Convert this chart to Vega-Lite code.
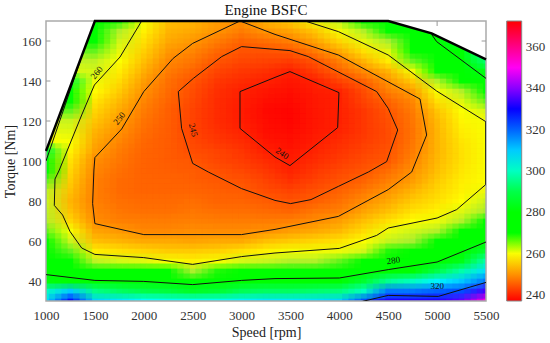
{"$schema":"https://vega.github.io/schema/vega-lite/v6.json","width":440,"height":280,"autosize":{"type":"none"},"padding":{"left":46,"top":21,"right":64,"bottom":42},"background":"white","config":{"view":{"stroke":null},"font":"Liberation Serif"},"title":{"text":"Engine BSFC","font":"Liberation Serif","fontSize":15,"fontWeight":"normal","color":"#111","offset":-2,"anchor":"middle"},
"datasets":{"grid":[
{"rpm":1000,"nm":30,"v":308},{"rpm":1000,"nm":35,"v":300},{"rpm":1000,"nm":40,"v":285},{"rpm":1000,"nm":45,"v":279},{"rpm":1000,"nm":50,"v":275},{"rpm":1000,"nm":55,"v":272},{"rpm":1000,"nm":60,"v":270},{"rpm":1000,"nm":65,"v":268},{"rpm":1000,"nm":70,"v":266},{"rpm":1000,"nm":75,"v":265},{"rpm":1000,"nm":80,"v":264},{"rpm":1000,"nm":85,"v":265},{"rpm":1000,"nm":90,"v":268},{"rpm":1000,"nm":95,"v":272},{"rpm":1000,"nm":100,"v":280},{"rpm":1000,"nm":105,"v":288},
{"rpm":1250,"nm":30,"v":328},{"rpm":1250,"nm":35,"v":310},{"rpm":1250,"nm":40,"v":283},{"rpm":1250,"nm":45,"v":277},{"rpm":1250,"nm":50,"v":273},{"rpm":1250,"nm":55,"v":268},{"rpm":1250,"nm":60,"v":264},{"rpm":1250,"nm":65,"v":260},{"rpm":1250,"nm":70,"v":256},{"rpm":1250,"nm":75,"v":254},{"rpm":1250,"nm":80,"v":253},{"rpm":1250,"nm":85,"v":254},{"rpm":1250,"nm":90,"v":255},{"rpm":1250,"nm":95,"v":256},{"rpm":1250,"nm":100,"v":257},{"rpm":1250,"nm":105,"v":258.5},{"rpm":1250,"nm":110,"v":260},{"rpm":1250,"nm":115,"v":262},{"rpm":1250,"nm":120,"v":264},{"rpm":1250,"nm":125,"v":268},{"rpm":1250,"nm":130,"v":274},{"rpm":1250,"nm":135,"v":282},{"rpm":1250,"nm":140,"v":288},
{"rpm":1500,"nm":30,"v":309},{"rpm":1500,"nm":35,"v":295},{"rpm":1500,"nm":40,"v":281},{"rpm":1500,"nm":45,"v":273},{"rpm":1500,"nm":50,"v":265},{"rpm":1500,"nm":55,"v":258},{"rpm":1500,"nm":60,"v":254},{"rpm":1500,"nm":65,"v":251.5},{"rpm":1500,"nm":70,"v":249.7},{"rpm":1500,"nm":75,"v":249},{"rpm":1500,"nm":80,"v":248.5},{"rpm":1500,"nm":85,"v":248.3},{"rpm":1500,"nm":90,"v":248.5},{"rpm":1500,"nm":95,"v":249},{"rpm":1500,"nm":100,"v":249.8},{"rpm":1500,"nm":105,"v":251},{"rpm":1500,"nm":110,"v":252},{"rpm":1500,"nm":115,"v":253},{"rpm":1500,"nm":120,"v":254.5},{"rpm":1500,"nm":125,"v":256},{"rpm":1500,"nm":130,"v":257.5},{"rpm":1500,"nm":135,"v":259.3},{"rpm":1500,"nm":140,"v":261},{"rpm":1500,"nm":145,"v":263},{"rpm":1500,"nm":150,"v":265},{"rpm":1500,"nm":155,"v":268},{"rpm":1500,"nm":160,"v":272},{"rpm":1500,"nm":165,"v":276},{"rpm":1500,"nm":170,"v":282},
{"rpm":1750,"nm":30,"v":307},{"rpm":1750,"nm":35,"v":292},{"rpm":1750,"nm":40,"v":280},{"rpm":1750,"nm":45,"v":272},{"rpm":1750,"nm":50,"v":263},{"rpm":1750,"nm":55,"v":257},{"rpm":1750,"nm":60,"v":253},{"rpm":1750,"nm":65,"v":250.5},{"rpm":1750,"nm":70,"v":248.5},{"rpm":1750,"nm":75,"v":247.5},{"rpm":1750,"nm":80,"v":247},{"rpm":1750,"nm":85,"v":246.5},{"rpm":1750,"nm":90,"v":246.5},{"rpm":1750,"nm":95,"v":247},{"rpm":1750,"nm":100,"v":247.5},{"rpm":1750,"nm":105,"v":248},{"rpm":1750,"nm":110,"v":249},{"rpm":1750,"nm":115,"v":250},{"rpm":1750,"nm":120,"v":251},{"rpm":1750,"nm":125,"v":252},{"rpm":1750,"nm":130,"v":253.5},{"rpm":1750,"nm":135,"v":255},{"rpm":1750,"nm":140,"v":256.5},{"rpm":1750,"nm":145,"v":258},{"rpm":1750,"nm":150,"v":259.7},{"rpm":1750,"nm":155,"v":261.5},{"rpm":1750,"nm":160,"v":263.5},{"rpm":1750,"nm":165,"v":266},{"rpm":1750,"nm":170,"v":269},
{"rpm":2000,"nm":30,"v":305},{"rpm":2000,"nm":35,"v":290},{"rpm":2000,"nm":40,"v":280},{"rpm":2000,"nm":45,"v":271},{"rpm":2000,"nm":50,"v":262},{"rpm":2000,"nm":55,"v":256},{"rpm":2000,"nm":60,"v":252},{"rpm":2000,"nm":65,"v":249.3},{"rpm":2000,"nm":70,"v":248},{"rpm":2000,"nm":75,"v":247},{"rpm":2000,"nm":80,"v":246.5},{"rpm":2000,"nm":85,"v":246},{"rpm":2000,"nm":90,"v":246},{"rpm":2000,"nm":95,"v":245.8},{"rpm":2000,"nm":100,"v":245.8},{"rpm":2000,"nm":105,"v":246},{"rpm":2000,"nm":110,"v":246.3},{"rpm":2000,"nm":115,"v":246.8},{"rpm":2000,"nm":120,"v":247.3},{"rpm":2000,"nm":125,"v":248},{"rpm":2000,"nm":130,"v":249},{"rpm":2000,"nm":135,"v":250},{"rpm":2000,"nm":140,"v":251},{"rpm":2000,"nm":145,"v":252.5},{"rpm":2000,"nm":150,"v":254},{"rpm":2000,"nm":155,"v":255.5},{"rpm":2000,"nm":160,"v":257},{"rpm":2000,"nm":165,"v":258.5},{"rpm":2000,"nm":170,"v":260},
{"rpm":2250,"nm":30,"v":304},{"rpm":2250,"nm":35,"v":289},{"rpm":2250,"nm":40,"v":278},{"rpm":2250,"nm":45,"v":270},{"rpm":2250,"nm":50,"v":260},{"rpm":2250,"nm":55,"v":255},{"rpm":2250,"nm":60,"v":252},{"rpm":2250,"nm":65,"v":249.3},{"rpm":2250,"nm":70,"v":248},{"rpm":2250,"nm":75,"v":247},{"rpm":2250,"nm":80,"v":246.5},{"rpm":2250,"nm":85,"v":246},{"rpm":2250,"nm":90,"v":245.8},{"rpm":2250,"nm":95,"v":245.5},{"rpm":2250,"nm":100,"v":245.3},{"rpm":2250,"nm":105,"v":245.2},{"rpm":2250,"nm":110,"v":245.2},{"rpm":2250,"nm":115,"v":245.3},{"rpm":2250,"nm":120,"v":245.4},{"rpm":2250,"nm":125,"v":245.5},{"rpm":2250,"nm":130,"v":246},{"rpm":2250,"nm":135,"v":246.5},{"rpm":2250,"nm":140,"v":247},{"rpm":2250,"nm":145,"v":248},{"rpm":2250,"nm":150,"v":249.2},{"rpm":2250,"nm":155,"v":250.5},{"rpm":2250,"nm":160,"v":252},{"rpm":2250,"nm":165,"v":253},{"rpm":2250,"nm":170,"v":254},
{"rpm":2500,"nm":30,"v":304},{"rpm":2500,"nm":35,"v":287},{"rpm":2500,"nm":40,"v":276.5},{"rpm":2500,"nm":45,"v":266.5},{"rpm":2500,"nm":50,"v":258.5},{"rpm":2500,"nm":55,"v":255},{"rpm":2500,"nm":60,"v":251.5},{"rpm":2500,"nm":65,"v":249.7},{"rpm":2500,"nm":70,"v":248.5},{"rpm":2500,"nm":75,"v":247.5},{"rpm":2500,"nm":80,"v":246.8},{"rpm":2500,"nm":85,"v":246},{"rpm":2500,"nm":90,"v":245.5},{"rpm":2500,"nm":95,"v":245.2},{"rpm":2500,"nm":100,"v":244.8},{"rpm":2500,"nm":105,"v":244},{"rpm":2500,"nm":110,"v":243.5},{"rpm":2500,"nm":115,"v":243},{"rpm":2500,"nm":120,"v":243},{"rpm":2500,"nm":125,"v":243},{"rpm":2500,"nm":130,"v":243.5},{"rpm":2500,"nm":135,"v":244},{"rpm":2500,"nm":140,"v":244.8},{"rpm":2500,"nm":145,"v":246},{"rpm":2500,"nm":150,"v":247.5},{"rpm":2500,"nm":155,"v":249},{"rpm":2500,"nm":160,"v":250.5},{"rpm":2500,"nm":165,"v":252},{"rpm":2500,"nm":170,"v":253},
{"rpm":2750,"nm":30,"v":304},{"rpm":2750,"nm":35,"v":288},{"rpm":2750,"nm":40,"v":278},{"rpm":2750,"nm":45,"v":269},{"rpm":2750,"nm":50,"v":260},{"rpm":2750,"nm":55,"v":255.5},{"rpm":2750,"nm":60,"v":252},{"rpm":2750,"nm":65,"v":249.5},{"rpm":2750,"nm":70,"v":248},{"rpm":2750,"nm":75,"v":247},{"rpm":2750,"nm":80,"v":246},{"rpm":2750,"nm":85,"v":245.5},{"rpm":2750,"nm":90,"v":245},{"rpm":2750,"nm":95,"v":244.3},{"rpm":2750,"nm":100,"v":243.5},{"rpm":2750,"nm":105,"v":243},{"rpm":2750,"nm":110,"v":242},{"rpm":2750,"nm":115,"v":241.5},{"rpm":2750,"nm":120,"v":241},{"rpm":2750,"nm":125,"v":241},{"rpm":2750,"nm":130,"v":241},{"rpm":2750,"nm":135,"v":241.2},{"rpm":2750,"nm":140,"v":242},{"rpm":2750,"nm":145,"v":243.2},{"rpm":2750,"nm":150,"v":244.8},{"rpm":2750,"nm":155,"v":246.2},{"rpm":2750,"nm":160,"v":248.2},{"rpm":2750,"nm":165,"v":250.2},{"rpm":2750,"nm":170,"v":251},
{"rpm":3000,"nm":30,"v":306},{"rpm":3000,"nm":35,"v":291},{"rpm":3000,"nm":40,"v":281},{"rpm":3000,"nm":45,"v":272},{"rpm":3000,"nm":50,"v":263},{"rpm":3000,"nm":55,"v":257},{"rpm":3000,"nm":60,"v":252},{"rpm":3000,"nm":65,"v":249.5},{"rpm":3000,"nm":70,"v":248},{"rpm":3000,"nm":75,"v":246.8},{"rpm":3000,"nm":80,"v":246},{"rpm":3000,"nm":85,"v":245.2},{"rpm":3000,"nm":90,"v":244.5},{"rpm":3000,"nm":95,"v":243.5},{"rpm":3000,"nm":100,"v":242.5},{"rpm":3000,"nm":105,"v":241.8},{"rpm":3000,"nm":110,"v":241},{"rpm":3000,"nm":115,"v":240.2},{"rpm":3000,"nm":120,"v":239.7},{"rpm":3000,"nm":125,"v":239.5},{"rpm":3000,"nm":130,"v":239.7},{"rpm":3000,"nm":135,"v":240},{"rpm":3000,"nm":140,"v":241},{"rpm":3000,"nm":145,"v":242},{"rpm":3000,"nm":150,"v":243.3},{"rpm":3000,"nm":155,"v":244.5},{"rpm":3000,"nm":160,"v":246},{"rpm":3000,"nm":165,"v":248},{"rpm":3000,"nm":170,"v":250},
{"rpm":3250,"nm":30,"v":307},{"rpm":3250,"nm":35,"v":292},{"rpm":3250,"nm":40,"v":282},{"rpm":3250,"nm":45,"v":273},{"rpm":3250,"nm":50,"v":264},{"rpm":3250,"nm":55,"v":258.5},{"rpm":3250,"nm":60,"v":254},{"rpm":3250,"nm":65,"v":250},{"rpm":3250,"nm":70,"v":248},{"rpm":3250,"nm":75,"v":246.5},{"rpm":3250,"nm":80,"v":245.2},{"rpm":3250,"nm":85,"v":244},{"rpm":3250,"nm":90,"v":243},{"rpm":3250,"nm":95,"v":242},{"rpm":3250,"nm":100,"v":241},{"rpm":3250,"nm":105,"v":239.8},{"rpm":3250,"nm":110,"v":239},{"rpm":3250,"nm":115,"v":238.5},{"rpm":3250,"nm":120,"v":238.2},{"rpm":3250,"nm":125,"v":238},{"rpm":3250,"nm":130,"v":238.5},{"rpm":3250,"nm":135,"v":239},{"rpm":3250,"nm":140,"v":240},{"rpm":3250,"nm":145,"v":241.5},{"rpm":3250,"nm":150,"v":243},{"rpm":3250,"nm":155,"v":244.5},{"rpm":3250,"nm":160,"v":247},{"rpm":3250,"nm":165,"v":250.3},{"rpm":3250,"nm":170,"v":253},
{"rpm":3500,"nm":30,"v":307},{"rpm":3500,"nm":35,"v":292},{"rpm":3500,"nm":40,"v":282},{"rpm":3500,"nm":45,"v":273},{"rpm":3500,"nm":50,"v":266},{"rpm":3500,"nm":55,"v":260},{"rpm":3500,"nm":60,"v":255},{"rpm":3500,"nm":65,"v":251},{"rpm":3500,"nm":70,"v":248.5},{"rpm":3500,"nm":75,"v":246},{"rpm":3500,"nm":80,"v":244.5},{"rpm":3500,"nm":85,"v":243},{"rpm":3500,"nm":90,"v":241.5},{"rpm":3500,"nm":95,"v":240.3},{"rpm":3500,"nm":100,"v":239.7},{"rpm":3500,"nm":105,"v":239},{"rpm":3500,"nm":110,"v":238.5},{"rpm":3500,"nm":115,"v":238},{"rpm":3500,"nm":120,"v":237.5},{"rpm":3500,"nm":125,"v":237.5},{"rpm":3500,"nm":130,"v":238},{"rpm":3500,"nm":135,"v":238.5},{"rpm":3500,"nm":140,"v":239},{"rpm":3500,"nm":145,"v":240},{"rpm":3500,"nm":150,"v":242.5},{"rpm":3500,"nm":155,"v":245},{"rpm":3500,"nm":160,"v":248.5},{"rpm":3500,"nm":165,"v":251.5},{"rpm":3500,"nm":170,"v":255},
{"rpm":3750,"nm":30,"v":308},{"rpm":3750,"nm":35,"v":293},{"rpm":3750,"nm":40,"v":282},{"rpm":3750,"nm":45,"v":274},{"rpm":3750,"nm":50,"v":266},{"rpm":3750,"nm":55,"v":260.5},{"rpm":3750,"nm":60,"v":256},{"rpm":3750,"nm":65,"v":252},{"rpm":3750,"nm":70,"v":249.5},{"rpm":3750,"nm":75,"v":247.5},{"rpm":3750,"nm":80,"v":245.5},{"rpm":3750,"nm":85,"v":244.2},{"rpm":3750,"nm":90,"v":243},{"rpm":3750,"nm":95,"v":242},{"rpm":3750,"nm":100,"v":241},{"rpm":3750,"nm":105,"v":240.3},{"rpm":3750,"nm":110,"v":239.7},{"rpm":3750,"nm":115,"v":239.3},{"rpm":3750,"nm":120,"v":239},{"rpm":3750,"nm":125,"v":239},{"rpm":3750,"nm":130,"v":239.2},{"rpm":3750,"nm":135,"v":239.6},{"rpm":3750,"nm":140,"v":240},{"rpm":3750,"nm":145,"v":242.5},{"rpm":3750,"nm":150,"v":244.5},{"rpm":3750,"nm":155,"v":248},{"rpm":3750,"nm":160,"v":251.5},{"rpm":3750,"nm":165,"v":254.5},{"rpm":3750,"nm":170,"v":261},
{"rpm":4000,"nm":30,"v":309},{"rpm":4000,"nm":35,"v":294},{"rpm":4000,"nm":40,"v":283},{"rpm":4000,"nm":45,"v":276},{"rpm":4000,"nm":50,"v":268},{"rpm":4000,"nm":55,"v":261},{"rpm":4000,"nm":60,"v":257},{"rpm":4000,"nm":65,"v":253.5},{"rpm":4000,"nm":70,"v":251},{"rpm":4000,"nm":75,"v":248.5},{"rpm":4000,"nm":80,"v":247},{"rpm":4000,"nm":85,"v":245.7},{"rpm":4000,"nm":90,"v":244.5},{"rpm":4000,"nm":95,"v":243.5},{"rpm":4000,"nm":100,"v":242.5},{"rpm":4000,"nm":105,"v":241.7},{"rpm":4000,"nm":110,"v":241},{"rpm":4000,"nm":115,"v":240.3},{"rpm":4000,"nm":120,"v":240},{"rpm":4000,"nm":125,"v":240},{"rpm":4000,"nm":130,"v":240},{"rpm":4000,"nm":135,"v":240.3},{"rpm":4000,"nm":140,"v":243},{"rpm":4000,"nm":145,"v":246},{"rpm":4000,"nm":150,"v":248.5},{"rpm":4000,"nm":155,"v":252},{"rpm":4000,"nm":160,"v":256},{"rpm":4000,"nm":165,"v":260.3},{"rpm":4000,"nm":170,"v":265},
{"rpm":4250,"nm":30,"v":322},{"rpm":4250,"nm":35,"v":300},{"rpm":4250,"nm":40,"v":288},{"rpm":4250,"nm":45,"v":278},{"rpm":4250,"nm":50,"v":270},{"rpm":4250,"nm":55,"v":263.5},{"rpm":4250,"nm":60,"v":259.7},{"rpm":4250,"nm":65,"v":256.5},{"rpm":4250,"nm":70,"v":254},{"rpm":4250,"nm":75,"v":251.5},{"rpm":4250,"nm":80,"v":249.5},{"rpm":4250,"nm":85,"v":247.8},{"rpm":4250,"nm":90,"v":246},{"rpm":4250,"nm":95,"v":244.8},{"rpm":4250,"nm":100,"v":243.8},{"rpm":4250,"nm":105,"v":243},{"rpm":4250,"nm":110,"v":242.5},{"rpm":4250,"nm":115,"v":242},{"rpm":4250,"nm":120,"v":242},{"rpm":4250,"nm":125,"v":242},{"rpm":4250,"nm":130,"v":243},{"rpm":4250,"nm":135,"v":244},{"rpm":4250,"nm":140,"v":245.8},{"rpm":4250,"nm":145,"v":249.5},{"rpm":4250,"nm":150,"v":253},{"rpm":4250,"nm":155,"v":257},{"rpm":4250,"nm":160,"v":261.5},{"rpm":4250,"nm":165,"v":266},{"rpm":4250,"nm":170,"v":271},
{"rpm":4500,"nm":30,"v":332},{"rpm":4500,"nm":35,"v":318},{"rpm":4500,"nm":40,"v":296},{"rpm":4500,"nm":45,"v":281},{"rpm":4500,"nm":50,"v":274},{"rpm":4500,"nm":55,"v":269},{"rpm":4500,"nm":60,"v":264.5},{"rpm":4500,"nm":65,"v":261},{"rpm":4500,"nm":70,"v":257},{"rpm":4500,"nm":75,"v":254},{"rpm":4500,"nm":80,"v":252},{"rpm":4500,"nm":85,"v":250.3},{"rpm":4500,"nm":90,"v":248.5},{"rpm":4500,"nm":95,"v":246.7},{"rpm":4500,"nm":100,"v":245},{"rpm":4500,"nm":105,"v":244.5},{"rpm":4500,"nm":110,"v":244},{"rpm":4500,"nm":115,"v":244},{"rpm":4500,"nm":120,"v":244.2},{"rpm":4500,"nm":125,"v":244.8},{"rpm":4500,"nm":130,"v":246},{"rpm":4500,"nm":135,"v":248.3},{"rpm":4500,"nm":140,"v":250.2},{"rpm":4500,"nm":145,"v":253},{"rpm":4500,"nm":150,"v":258},{"rpm":4500,"nm":155,"v":262},{"rpm":4500,"nm":160,"v":267},{"rpm":4500,"nm":165,"v":272},{"rpm":4500,"nm":170,"v":277},
{"rpm":4750,"nm":30,"v":332},{"rpm":4750,"nm":35,"v":318},{"rpm":4750,"nm":40,"v":300},{"rpm":4750,"nm":45,"v":284},{"rpm":4750,"nm":50,"v":276},{"rpm":4750,"nm":55,"v":271},{"rpm":4750,"nm":60,"v":267},{"rpm":4750,"nm":65,"v":263.5},{"rpm":4750,"nm":70,"v":259.5},{"rpm":4750,"nm":75,"v":257},{"rpm":4750,"nm":80,"v":255},{"rpm":4750,"nm":85,"v":253},{"rpm":4750,"nm":90,"v":251},{"rpm":4750,"nm":95,"v":250},{"rpm":4750,"nm":100,"v":249},{"rpm":4750,"nm":105,"v":248},{"rpm":4750,"nm":110,"v":247.5},{"rpm":4750,"nm":115,"v":247.3},{"rpm":4750,"nm":120,"v":247.5},{"rpm":4750,"nm":125,"v":248},{"rpm":4750,"nm":130,"v":249.2},{"rpm":4750,"nm":135,"v":251},{"rpm":4750,"nm":140,"v":255},{"rpm":4750,"nm":145,"v":260.5},{"rpm":4750,"nm":150,"v":268},{"rpm":4750,"nm":155,"v":275},{"rpm":4750,"nm":160,"v":279},{"rpm":4750,"nm":165,"v":281},{"rpm":4750,"nm":170,"v":283},
{"rpm":5000,"nm":30,"v":332},{"rpm":5000,"nm":35,"v":320},{"rpm":5000,"nm":40,"v":306},{"rpm":5000,"nm":45,"v":290},{"rpm":5000,"nm":50,"v":279},{"rpm":5000,"nm":55,"v":274},{"rpm":5000,"nm":60,"v":270},{"rpm":5000,"nm":65,"v":266},{"rpm":5000,"nm":70,"v":261},{"rpm":5000,"nm":75,"v":258.5},{"rpm":5000,"nm":80,"v":257},{"rpm":5000,"nm":85,"v":256},{"rpm":5000,"nm":90,"v":255},{"rpm":5000,"nm":95,"v":254},{"rpm":5000,"nm":100,"v":253.5},{"rpm":5000,"nm":105,"v":253},{"rpm":5000,"nm":110,"v":253},{"rpm":5000,"nm":115,"v":253},{"rpm":5000,"nm":120,"v":253.5},{"rpm":5000,"nm":125,"v":254.5},{"rpm":5000,"nm":130,"v":257},{"rpm":5000,"nm":135,"v":260},{"rpm":5000,"nm":140,"v":266},{"rpm":5000,"nm":145,"v":273},{"rpm":5000,"nm":150,"v":278},{"rpm":5000,"nm":155,"v":279.5},{"rpm":5000,"nm":160,"v":280},{"rpm":5000,"nm":165,"v":284},{"rpm":5000,"nm":170,"v":286},
{"rpm":5250,"nm":30,"v":337},{"rpm":5250,"nm":35,"v":322},{"rpm":5250,"nm":40,"v":310},{"rpm":5250,"nm":45,"v":298},{"rpm":5250,"nm":50,"v":286},{"rpm":5250,"nm":55,"v":279},{"rpm":5250,"nm":60,"v":274},{"rpm":5250,"nm":65,"v":270},{"rpm":5250,"nm":70,"v":266},{"rpm":5250,"nm":75,"v":262},{"rpm":5250,"nm":80,"v":259.5},{"rpm":5250,"nm":85,"v":258.5},{"rpm":5250,"nm":90,"v":258},{"rpm":5250,"nm":95,"v":257.5},{"rpm":5250,"nm":100,"v":257},{"rpm":5250,"nm":105,"v":257},{"rpm":5250,"nm":110,"v":257.3},{"rpm":5250,"nm":115,"v":258},{"rpm":5250,"nm":120,"v":258.8},{"rpm":5250,"nm":125,"v":259.7},{"rpm":5250,"nm":130,"v":262},{"rpm":5250,"nm":135,"v":266},{"rpm":5250,"nm":140,"v":271},{"rpm":5250,"nm":145,"v":276},{"rpm":5250,"nm":150,"v":280},{"rpm":5250,"nm":155,"v":284},{"rpm":5250,"nm":160,"v":288},{"rpm":5250,"nm":165,"v":290},{"rpm":5250,"nm":170,"v":292},
{"rpm":5500,"nm":30,"v":352},{"rpm":5500,"nm":35,"v":335},{"rpm":5500,"nm":40,"v":318},{"rpm":5500,"nm":45,"v":308},{"rpm":5500,"nm":50,"v":298},{"rpm":5500,"nm":55,"v":288},{"rpm":5500,"nm":60,"v":279},{"rpm":5500,"nm":65,"v":274},{"rpm":5500,"nm":70,"v":270},{"rpm":5500,"nm":75,"v":267},{"rpm":5500,"nm":80,"v":264},{"rpm":5500,"nm":85,"v":261},{"rpm":5500,"nm":90,"v":259.7},{"rpm":5500,"nm":95,"v":259.8},{"rpm":5500,"nm":100,"v":259.8},{"rpm":5500,"nm":105,"v":259.8},{"rpm":5500,"nm":110,"v":259.8},{"rpm":5500,"nm":115,"v":259.8},{"rpm":5500,"nm":120,"v":260.2},{"rpm":5500,"nm":125,"v":263},{"rpm":5500,"nm":130,"v":268},{"rpm":5500,"nm":135,"v":273},{"rpm":5500,"nm":140,"v":279},{"rpm":5500,"nm":145,"v":286},{"rpm":5500,"nm":150,"v":293},{"rpm":5500,"nm":155,"v":297},{"rpm":5500,"nm":160,"v":300},{"rpm":5500,"nm":165,"v":300},{"rpm":5500,"nm":170,"v":300}
],
"lines":[
{"c":"320","i":1,"rpm":4235,"nm":29.8},{"c":"320","i":2,"rpm":4500,"nm":32.8},{"c":"320","i":3,"rpm":5012,"nm":32.3},{"c":"320","i":4,"rpm":5500,"nm":39.3},
{"c":"280","i":1,"rpm":1000,"nm":43.2},{"c":"280","i":2,"rpm":1500,"nm":40.3},{"c":"280","i":3,"rpm":2000,"nm":39.8},{"c":"280","i":4,"rpm":2500,"nm":38.2},{"c":"280","i":5,"rpm":3000,"nm":40.3},{"c":"280","i":6,"rpm":3342,"nm":41.2},{"c":"280","i":7,"rpm":4000,"nm":41.5},{"c":"280","i":8,"rpm":4500,"nm":45.7},{"c":"280","i":9,"rpm":5000,"nm":49.5},{"c":"280","i":10,"rpm":5500,"nm":59.5},
{"c":"260","i":1,"rpm":1978,"nm":170},{"c":"260","i":2,"rpm":1757,"nm":152},{"c":"260","i":3,"rpm":1495,"nm":138},{"c":"260","i":4,"rpm":1365,"nm":123},{"c":"260","i":5,"rpm":1136,"nm":95.5},{"c":"260","i":6,"rpm":1092,"nm":91},{"c":"260","i":7,"rpm":1085,"nm":77.8},{"c":"260","i":8,"rpm":1170,"nm":73},{"c":"260","i":9,"rpm":1245,"nm":64.8},{"c":"260","i":10,"rpm":1365,"nm":56.5},{"c":"260","i":11,"rpm":1500,"nm":53.3},{"c":"260","i":12,"rpm":2000,"nm":51.7},{"c":"260","i":13,"rpm":2500,"nm":48.3},{"c":"260","i":14,"rpm":3000,"nm":52.2},{"c":"260","i":15,"rpm":3342,"nm":54},{"c":"260","i":16,"rpm":4000,"nm":56.3},{"c":"260","i":17,"rpm":4382,"nm":62.8},{"c":"260","i":18,"rpm":4500,"nm":66.5},{"c":"260","i":19,"rpm":5000,"nm":71.5},{"c":"260","i":20,"rpm":5200,"nm":75.7},{"c":"260","i":21,"rpm":5497,"nm":88.2},{"c":"260","i":22,"rpm":5497,"nm":119.7},{"c":"260","i":23,"rpm":4995,"nm":135},{"c":"260","i":24,"rpm":4500,"nm":153},{"c":"260","i":25,"rpm":3990,"nm":164.7},{"c":"260","i":26,"rpm":3649,"nm":170},
{"c":"250","i":1,"rpm":2984,"nm":170},{"c":"250","i":2,"rpm":2500,"nm":158.8},{"c":"250","i":3,"rpm":2300,"nm":151.3},{"c":"250","i":4,"rpm":2000,"nm":134.7},{"c":"250","i":5,"rpm":1774,"nm":116},{"c":"250","i":6,"rpm":1500,"nm":101.7},{"c":"250","i":7,"rpm":1490,"nm":95.5},{"c":"250","i":8,"rpm":1477,"nm":78.7},{"c":"250","i":9,"rpm":1500,"nm":68.7},{"c":"250","i":10,"rpm":2000,"nm":63.2},{"c":"250","i":11,"rpm":3000,"nm":63.2},{"c":"250","i":12,"rpm":3342,"nm":65.8},{"c":"250","i":13,"rpm":3990,"nm":72.3},{"c":"250","i":14,"rpm":4500,"nm":85.7},{"c":"250","i":15,"rpm":4740,"nm":94.5},{"c":"250","i":16,"rpm":4893,"nm":113},{"c":"250","i":17,"rpm":4825,"nm":131},{"c":"250","i":18,"rpm":3990,"nm":153},{"c":"250","i":19,"rpm":3342,"nm":163.3},{"c":"250","i":20,"rpm":2984,"nm":170},
{"c":"245","i":1,"rpm":2353,"nm":134.7},{"c":"245","i":2,"rpm":2507,"nm":141.3},{"c":"245","i":3,"rpm":2797,"nm":152.2},{"c":"245","i":4,"rpm":3000,"nm":157.2},{"c":"245","i":5,"rpm":3495,"nm":155.2},{"c":"245","i":6,"rpm":3683,"nm":152.2},{"c":"245","i":7,"rpm":4382,"nm":134.7},{"c":"245","i":8,"rpm":4500,"nm":126.3},{"c":"245","i":9,"rpm":4597,"nm":115.5},{"c":"245","i":10,"rpm":4484,"nm":99.7},{"c":"245","i":11,"rpm":4297,"nm":94.5},{"c":"245","i":12,"rpm":3990,"nm":87.3},{"c":"245","i":13,"rpm":3710,"nm":80.7},{"c":"245","i":14,"rpm":3502,"nm":78.7},{"c":"245","i":15,"rpm":3342,"nm":80.3},{"c":"245","i":16,"rpm":3000,"nm":86.2},{"c":"245","i":17,"rpm":2660,"nm":94.5},{"c":"245","i":18,"rpm":2500,"nm":98.8},{"c":"245","i":19,"rpm":2387,"nm":116.3},{"c":"245","i":20,"rpm":2353,"nm":134.7},
{"c":"240","i":1,"rpm":2984,"nm":134.7},{"c":"240","i":2,"rpm":3342,"nm":141.8},{"c":"240","i":3,"rpm":3495,"nm":144.7},{"c":"240","i":4,"rpm":3996,"nm":134.2},{"c":"240","i":5,"rpm":3983,"nm":116.7},{"c":"240","i":6,"rpm":3495,"nm":97.7},{"c":"240","i":7,"rpm":3342,"nm":102},{"c":"240","i":8,"rpm":2984,"nm":116.3},{"c":"240","i":9,"rpm":2984,"nm":134.7},
{"c":"inner","i":1,"rpm":1000,"nm":100},{"c":"inner","i":2,"rpm":1350,"nm":150},
{"c":"right","i":1,"rpm":4944,"nm":163.3},{"c":"right","i":2,"rpm":4995,"nm":159.7},{"c":"right","i":3,"rpm":5500,"nm":141.3}
],
"edge":[{"c":"edge","i":1,"rpm":1000,"nm":105},{"c":"edge","i":2,"rpm":1500,"nm":170},{"c":"edge","i":3,"rpm":4500,"nm":170},{"c":"edge","i":4,"rpm":4944,"nm":163.8},{"c":"edge","i":5,"rpm":5500,"nm":150.8}]
},
"encoding":{"x":{"field":"rpm","type":"quantitative","scale":{"domain":[1000,5500],"nice":false,"zero":false},"axis":{"values":[1000,1500,2000,2500,3000,3500,4000,4500,5000,5500],"format":"d","title":"Speed [rpm]","domain":false,"ticks":false,"grid":false,"labelFont":"Liberation Serif","labelFontSize":13,"labelColor":"#333","labelPadding":8,"titleFont":"Liberation Serif","titleFontSize":14,"titleFontWeight":"normal","titleColor":"#222","titlePadding":3,"labelFlush":false}},
"y":{"field":"nm","type":"quantitative","scale":{"domain":[30,170],"nice":false,"zero":false},"axis":{"values":[40,60,80,100,120,140,160],"title":"Torque [Nm]","domain":false,"ticks":false,"grid":false,"labelFont":"Liberation Serif","labelFontSize":13,"labelColor":"#333","labelPadding":5,"titleFont":"Liberation Serif","titleFontSize":14,"titleFontWeight":"normal","titleColor":"#222","titlePadding":4}}},
"layer":[
{"data":{"name":"grid"},"mark":{"type":"rect","clip":true,"width":25,"height":10.5,"xOffset":-9.2,"yOffset":-2.5},"encoding":{"color":{"field":"v","type":"quantitative","scale":{"domain":[237,259.5,267,269.5,284,305,329.5,349,372.6],"range":["#ff0000","#ffff00","#a8f030","#00ff00","#00ff00","#00ffff","#0000ff","#ff00ff","#ff0000"],"interpolate":"rgb"},"legend":{"title":null,"orient":"none","legendX":460.7,"legendY":0,"direction":"vertical","type":"gradient","gradientLength":280,"gradientThickness":15,"gradientStrokeColor":"#888","gradientStrokeWidth":1,"values":[240,260,280,300,320,340,360],"labelFont":"Liberation Serif","labelFontSize":13,"labelColor":"#333","labelOffset":4,"labelOverlap":false}}}},
{"data":{"name":"grid"},"mark":{"type":"rect","clip":true,"width":25,"height":10.5,"xOffset":3.05,"yOffset":2.5,"fillOpacity":0.5},"encoding":{"color":{"field":"v","type":"quantitative"}}},
{"data":{"name":"grid"},"mark":{"type":"rect","clip":true,"width":25,"height":10.5,"xOffset":-3.05,"yOffset":-2.5,"fillOpacity":0.3333},"encoding":{"color":{"field":"v","type":"quantitative"}}},
{"data":{"name":"grid"},"mark":{"type":"rect","clip":true,"width":25,"height":10.5,"xOffset":9.2,"yOffset":2.5,"fillOpacity":0.25},"encoding":{"color":{"field":"v","type":"quantitative"}}},
{"data":{"name":"grid"},"mark":{"type":"rect","clip":true,"width":25,"height":10.5,"xOffset":-9.2,"yOffset":2.5,"fillOpacity":0.2},"encoding":{"color":{"field":"v","type":"quantitative"}}},
{"data":{"name":"grid"},"mark":{"type":"rect","clip":true,"width":25,"height":10.5,"xOffset":3.05,"yOffset":-2.5,"fillOpacity":0.1667},"encoding":{"color":{"field":"v","type":"quantitative"}}},
{"data":{"name":"grid"},"mark":{"type":"rect","clip":true,"width":25,"height":10.5,"xOffset":-3.05,"yOffset":2.5,"fillOpacity":0.1429},"encoding":{"color":{"field":"v","type":"quantitative"}}},
{"data":{"name":"grid"},"mark":{"type":"rect","clip":true,"width":25,"height":10.5,"xOffset":9.2,"yOffset":-2.5,"fillOpacity":0.125},"encoding":{"color":{"field":"v","type":"quantitative"}}},
{"data":{"values":[{"rpm":1000,"nm":105,"top":170},{"rpm":1500,"nm":170,"top":170}]},"mark":{"type":"area","color":"white"},"encoding":{"y2":{"field":"top"}}},
{"data":{"values":[{"rpm":4500,"nm":170,"top":170},{"rpm":4944,"nm":163.8,"top":170},{"rpm":5500,"nm":150.8,"top":170}]},"mark":{"type":"area","color":"white"},"encoding":{"y2":{"field":"top"}}},
{"data":{"values":[{"rpm":1000,"rpm2":5500,"nm":30,"nm2":170}]},"mark":{"type":"rect","fill":null,"fillOpacity":0,"stroke":"#aaaaaa","strokeWidth":1.5},"encoding":{"x2":{"field":"rpm2"},"y2":{"field":"nm2"}}},
{"data":{"values":[{"rpm":1000,"rpm2":1045,"nm":160,"nm2":160},{"rpm":1000,"rpm2":1045,"nm":140,"nm2":140},{"rpm":1000,"rpm2":1045,"nm":120,"nm2":120},{"rpm":5000,"rpm2":5000,"nm":170,"nm2":167.5},{"rpm":5500,"rpm2":5455,"nm":160,"nm2":160}]},"mark":{"type":"rule","color":"#999999","strokeWidth":1},"encoding":{"x2":{"field":"rpm2"},"y2":{"field":"nm2"}}},
{"data":{"name":"lines"},"mark":{"type":"line","color":"#111111","strokeWidth":1,"clip":true},"encoding":{"detail":{"field":"c"},"order":{"field":"i"}}},
{"data":{"name":"edge"},"mark":{"type":"line","color":"#000000","strokeWidth":2.4},"encoding":{"detail":{"field":"c"},"order":{"field":"i"}}},
{"data":{"values":[{"rpm":1518,"nm":144.2,"t":"260"}]},"mark":{"type":"text","angle":-52,"fontSize":9,"font":"Liberation Serif","color":"#111"},"encoding":{"text":{"field":"t"}}},
{"data":{"values":[{"rpm":1750,"nm":121.3,"t":"250"}]},"mark":{"type":"text","angle":-52,"fontSize":9,"font":"Liberation Serif","color":"#111"},"encoding":{"text":{"field":"t"}}},
{"data":{"values":[{"rpm":2507,"nm":115.5,"t":"245"}]},"mark":{"type":"text","angle":75,"fontSize":9,"font":"Liberation Serif","color":"#111"},"encoding":{"text":{"field":"t"}}},
{"data":{"values":[{"rpm":3417,"nm":103.8,"t":"240"}]},"mark":{"type":"text","angle":35,"fontSize":9,"font":"Liberation Serif","color":"#111"},"encoding":{"text":{"field":"t"}}},
{"data":{"values":[{"rpm":4552,"nm":50.3,"t":"280"}]},"mark":{"type":"text","angle":-8,"fontSize":9,"font":"Liberation Serif","color":"#111"},"encoding":{"text":{"field":"t"}}},
{"data":{"values":[{"rpm":5002,"nm":37.3,"t":"320"}]},"mark":{"type":"text","angle":0,"fontSize":9,"font":"Liberation Serif","color":"#111"},"encoding":{"text":{"field":"t"}}}
]}
